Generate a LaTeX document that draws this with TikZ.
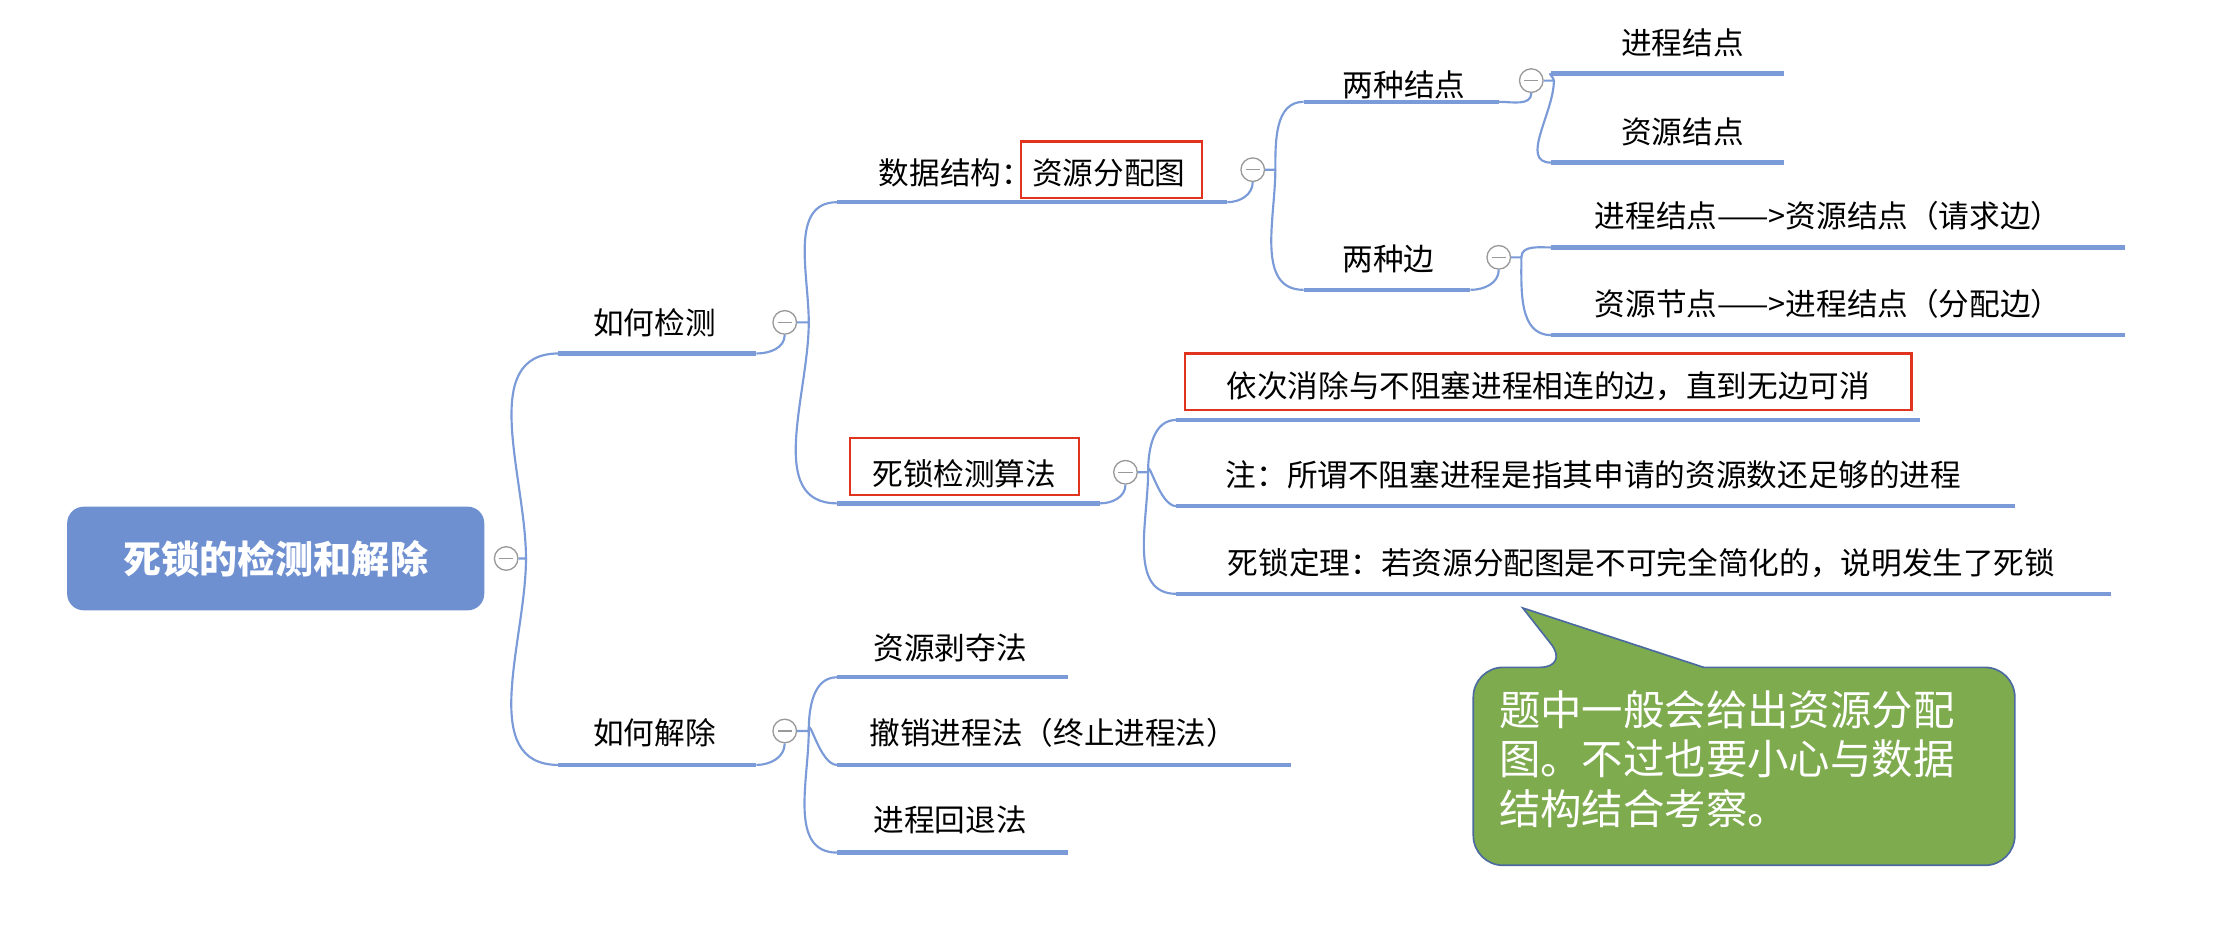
\documentclass[tikz,border=0pt]{standalone}
\usepackage{fontspec}
\setmainfont{Noto Sans CJK SC}
\usetikzlibrary{positioning}
\definecolor{mapblue}{HTML}{7B9BD8}
\definecolor{rootblue}{HTML}{6E8FD0}
\definecolor{notegreen}{HTML}{7FAB4F}
\definecolor{noteedge}{HTML}{4A6AA0}
\definecolor{markred}{HTML}{E0341E}
\begin{document}
\begin{tikzpicture}[x=0.03cm,y=-0.03cm]
    \tikzstyle{lbl}=[inner sep=0pt, font=\fontsize{18.5}{20}\selectfont]
    \tikzstyle{uline}=[draw=mapblue, line width=2.6pt]
    \tikzstyle{br}=[draw=mapblue, line width=1.3pt]
    \tikzstyle{fold}=[circle, draw=gray!80, line width=0.8pt, fill=white, minimum size=0.5cm, inner sep=0pt, path picture={\draw[gray!80,line width=0.8pt] ([xshift=-1.5mm]path picture bounding box.center) -- ([xshift=1.5mm]path picture bounding box.center);}]
    \tikzstyle{redbox}=[draw=markred, line width=1.4pt]
    \useasboundingbox (0,0) rectangle (1568,663);
    % root
    \node[fill=rootblue, rounded corners=10pt, text=white, font=\fontsize{23}{25}\selectfont\bfseries, minimum width=8.85cm, minimum height=2.2cm] (root) at (195,395) {死锁的检测和解除};
    \node[fold] (f0) at (358,395) {};
    % level 1
    \node[lbl] (detect) at (463,228) {如何检测};
    \node[lbl] (remove) at (463,518) {如何解除};
    \coordinate (d0) at (395,250); \coordinate (d1) at (535,250);
    \coordinate (r0) at (395,541); \coordinate (r1) at (535,541);
    \draw[uline] (d0) -- (d1);
    \draw[uline] (r0) -- (r1);
    \draw[br] (f0) -- (372,395) to[out=90,in=180] (d0);
    \draw[br] (372,395) to[out=-90,in=180] (r0);
    \node[fold] (f1) at (555,228) {};
    \node[fold] (f2) at (555,517) {};
    \draw[br] (d1) to[out=0,in=-90] (f1);
    \draw[br] (r1) to[out=0,in=-90] (f2);
    % detect branch
    \node[lbl] (ds) at (730,122) {数据结构：资源分配图};
    \node[lbl] (alg) at (682,335) {死锁检测算法};
    \coordinate (ds0) at (592,143); \coordinate (ds1) at (868,143);
    \coordinate (al0) at (592,356); \coordinate (al1) at (778,356);
    \draw[uline] (ds0) -- (ds1);
    \draw[uline] (al0) -- (al1);
    \draw[br] (f1) -- (572,228) to[out=90,in=180] (ds0);
    \draw[br] (572,228) to[out=-90,in=180] (al0);
    \draw[redbox] (722,100) rectangle (850,140);
    \draw[redbox] (601,310) rectangle (763,350);
    \node[fold] (f3) at (886,120) {};
    \node[fold] (f4) at (796,334) {};
    \draw[br] (ds1) to[out=0,in=-90] (f3);
    \draw[br] (al1) to[out=0,in=-90] (f4);
    % data structure
    \node[lbl] (nodes) at (993,60) {两种结点};
    \node[lbl] (edges) at (982,183) {两种边};
    \coordinate (n0) at (922,72); \coordinate (n1) at (1060,72);
    \coordinate (e0) at (922,205); \coordinate (e1) at (1040,205);
    \draw[uline] (n0) -- (n1);
    \draw[uline] (e0) -- (e1);
    \draw[br] (f3) -- (902,120) to[out=90,in=180] (n0);
    \draw[br] (902,120) to[out=-90,in=180] (e0);
    \node[fold] (f5) at (1083,57) {};
    \node[fold] (f6) at (1060,182) {};
    \draw[br] (n1) to[out=0,in=-90] (f5);
    \draw[br] (e1) to[out=0,in=-90] (f6);
    \node[lbl] (pn) at (1190,30) {进程结点};
    \node[lbl] (rn) at (1190,93) {资源结点};
    \coordinate (pn0) at (1097,52); \coordinate (pn1) at (1262,52);
    \coordinate (rn0) at (1097,115); \coordinate (rn1) at (1262,115);
    \draw[uline] (pn0) -- (pn1);
    \draw[uline] (rn0) -- (rn1);
    \draw[br] (f5) -- (1099,57) to[out=90,in=180] (pn0);
    \draw[br] (1099,57) to[out=-90,in=180] (rn0);
    \node[lbl] (req) at (1293,153) {进程结点——>资源结点（请求边）};
    \node[lbl] (asg) at (1293,215) {资源节点——>进程结点（分配边）};
    \coordinate (rq0) at (1097,175); \coordinate (rq1) at (1503,175);
    \coordinate (as0) at (1097,237); \coordinate (as1) at (1503,237);
    \draw[uline] (rq0) -- (rq1);
    \draw[uline] (as0) -- (as1);
    \draw[br] (f6) -- (1076,182) to[out=-90,in=180] (as0);
    \draw[br] (1076,182) to[out=90,in=180] (rq0);
    % algorithm
    \node[lbl] (step1) at (1095,273) {依次消除与不阻塞进程相连的边，直到无边可消};
    \node[lbl] (note1) at (1127,336) {注：所谓不阻塞进程是指其申请的资源数还足够的进程};
    \node[lbl] (thm) at (1161,398) {死锁定理：若资源分配图是不可完全简化的，说明发生了死锁};
    \coordinate (s0) at (832,297); \coordinate (s1) at (1358,297);
    \coordinate (t0) at (832,358); \coordinate (t1) at (1425,358);
    \coordinate (m0) at (832,420); \coordinate (m1) at (1493,420);
    \draw[uline] (s0) -- (s1);
    \draw[uline] (t0) -- (t1);
    \draw[uline] (m0) -- (m1);
    \draw[redbox] (838,250) rectangle (1352,290);
    \draw[br] (f4) -- (812,334) to[out=90,in=180] (s0);
    \draw[br] (812,334) to[out=-90,in=180] (m0);
    \draw[br] (812,334) to[out=90,in=180] (t0);
    % remove branch
    \node[lbl] (rob) at (672,458) {资源剥夺法};
    \node[lbl] (kill) at (745,518) {撤销进程法（终止进程法）};
    \node[lbl] (back) at (672,580) {进程回退法};
    \coordinate (a0) at (592,479); \coordinate (a1) at (755,479);
    \coordinate (b0) at (592,541); \coordinate (b1) at (913,541);
    \coordinate (c0) at (592,603); \coordinate (c1) at (755,603);
    \draw[uline] (a0) -- (a1);
    \draw[uline] (b0) -- (b1);
    \draw[uline] (c0) -- (c1);
    \draw[br] (f2) -- (572,517) to[out=90,in=180] (a0);
    \draw[br] (572,517) to[out=-90,in=180] (c0);
    \draw[br] (572,517) to[out=90,in=180] (b0);
    % callout
    \draw[draw=noteedge, fill=notegreen, line width=1pt, rounded corners=18pt]
        (1042,472) -- (1110,472) [sharp corners] -- (1077,430) -- (1205,472) [rounded corners=18pt] -- (1425,472) -- (1425,612) -- (1042,612) -- cycle;
    \node[text=white, font=\fontsize{25}{30}\selectfont, align=left, anchor=north west, inner sep=0pt] (tip) at (1060,488) {题中一般会给出资源分配\\图。不过也要小心与数据\\结构结合考察。};
\end{tikzpicture}
\end{document}
